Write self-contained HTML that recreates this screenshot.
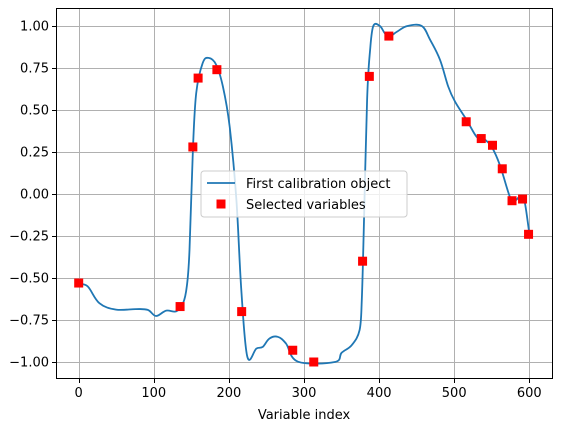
<!DOCTYPE html>
<html><head><meta charset="utf-8"><style>
body{margin:0;background:#fff}
svg text{font-family:"DejaVu Sans","Liberation Sans",sans-serif;font-size:13px;fill:#000}
</style></head><body>
<svg id="chart" width="561" height="432" xmlns="http://www.w3.org/2000/svg">
<g id="grid"></g>
<g id="series"></g>
<rect x="56.5" y="8.5" width="496" height="370" fill="none" stroke="#000" stroke-width="1"/>
<g id="ticks"></g>
<text x="304" y="419" text-anchor="middle">Variable index</text>
<g>
<rect x="201" y="171" width="206" height="46" rx="3" fill="#fff" fill-opacity="0.8" stroke="#ccc"/>
<line x1="207" y1="183" x2="235" y2="183" stroke="#1f77b4" stroke-width="1.8"/>
<text x="246" y="188">First calibration object</text>
<rect x="216.5" y="199.5" width="9" height="9" fill="red"/>
<text x="246" y="209">Selected variables</text>
</g>
</svg>
<script>
const xTicks=[0,100,200,300,400,500,600];
const yTicks=[1.00,0.75,0.50,0.25,0.00,-0.25,-0.50,-0.75,-1.00];
const curveX=[0,12,27.5,49.7,76,92,103,116.5,130,139,144,147.6,152,156.5,165,173,183,192,201,210,216.5,224.5,236.5,245,254,265,276,292,341,350,363.5,374,377,379.5,384,388,392.3,401,408,414.6,423.5,437.7,456.8,468,481,492,501,516.6,530,539,550,561,574.5,581,589,594,600];
const curveY=[-0.536,-0.55,-0.65,-0.688,-0.685,-0.69,-0.726,-0.694,-0.698,-0.65,-0.55,-0.333,0.262,0.6,0.778,0.81,0.77,0.64,0.40,-0.036,-0.571,-0.968,-0.92,-0.91,-0.86,-0.85,-0.89,-0.998,-1.0,-0.945,-0.90,-0.81,-0.63,-0.23,0.56,0.857,1.0,1.0,0.955,0.94,0.965,1.0,1.0,0.917,0.80,0.64,0.55,0.44,0.34,0.33,0.28,0.17,-0.02,-0.04,-0.01,-0.05,-0.234];
const selX=[0,135,152,159,184,217,285,313,378,387,413,516,536,551,564,577,591,599];
const selY=[-0.53,-0.67,0.28,0.69,0.74,-0.70,-0.93,-1.0,-0.40,0.70,0.94,0.43,0.33,0.29,0.15,-0.04,-0.03,-0.24];
const NS="http://www.w3.org/2000/svg";
const sx=v=>78.7+v*0.751;
const sy=v=>194-v*168;
const grid=document.getElementById('grid'),ticks=document.getElementById('ticks'),series=document.getElementById('series');
function mk(tag,attrs,parent){const e=document.createElementNS(NS,tag);for(const k in attrs)e.setAttribute(k,attrs[k]);parent.appendChild(e);return e;}
xTicks.forEach(t=>{
 const X=Math.round(sx(t))+0.5;
 const g=mk('line',{x1:X,x2:X,y1:9,y2:378,stroke:'#b0b0b0','stroke-width':1},grid);
 
 
 const tk=mk('line',{x1:X,x2:X,y1:379,y2:383,stroke:'#000'},ticks);
 
 
 const tx=mk('text',{x:sx(t),y:397,'text-anchor':'middle'},ticks);tx.textContent=t;
 
 
});
yTicks.forEach(t=>{
 const Y=Math.round(sy(t))+0.5;
 const g=mk('line',{x1:57,x2:552,y1:Y,y2:Y,stroke:'#b0b0b0','stroke-width':1},grid);
 
 
 const tk=mk('line',{x1:52,x2:56,y1:Y,y2:Y,stroke:'#000'},ticks);
 
 
 const tx=mk('text',{x:49,y:sy(t)+4.5,'text-anchor':'end'},ticks);tx.textContent=t.toFixed(2).replace('-','−');
 
 
});
const P=curveX.map((x,i)=>[sx(x),sy(curveY[i])]);
let d='M'+P[0][0].toFixed(1)+','+P[0][1].toFixed(1);
for(let i=0;i<P.length-1;i++){
 const p0=P[Math.max(0,i-1)],p1=P[i],p2=P[i+1],p3=P[Math.min(P.length-1,i+2)];
 const t=0.35;
 const c1=[p1[0]+(p2[0]-p0[0])*t/2,p1[1]+(p2[1]-p0[1])*t/2];
 const c2=[p2[0]-(p3[0]-p1[0])*t/2,p2[1]-(p3[1]-p1[1])*t/2];
 d+=' C'+c1[0].toFixed(1)+','+c1[1].toFixed(1)+' '+c2[0].toFixed(1)+','+c2[1].toFixed(1)+' '+p2[0].toFixed(1)+','+p2[1].toFixed(1);
}
const pl=mk('path',{d:d,fill:'none',stroke:'#1f77b4','stroke-width':1.8,'stroke-linejoin':'round'},series);


selX.forEach((x,i)=>{
 const r=mk('rect',{x:sx(x)-4.5,y:sy(selY[i])-4.5,width:9,height:9,fill:'red'},series);
 
 
});
</script>
</body></html>
